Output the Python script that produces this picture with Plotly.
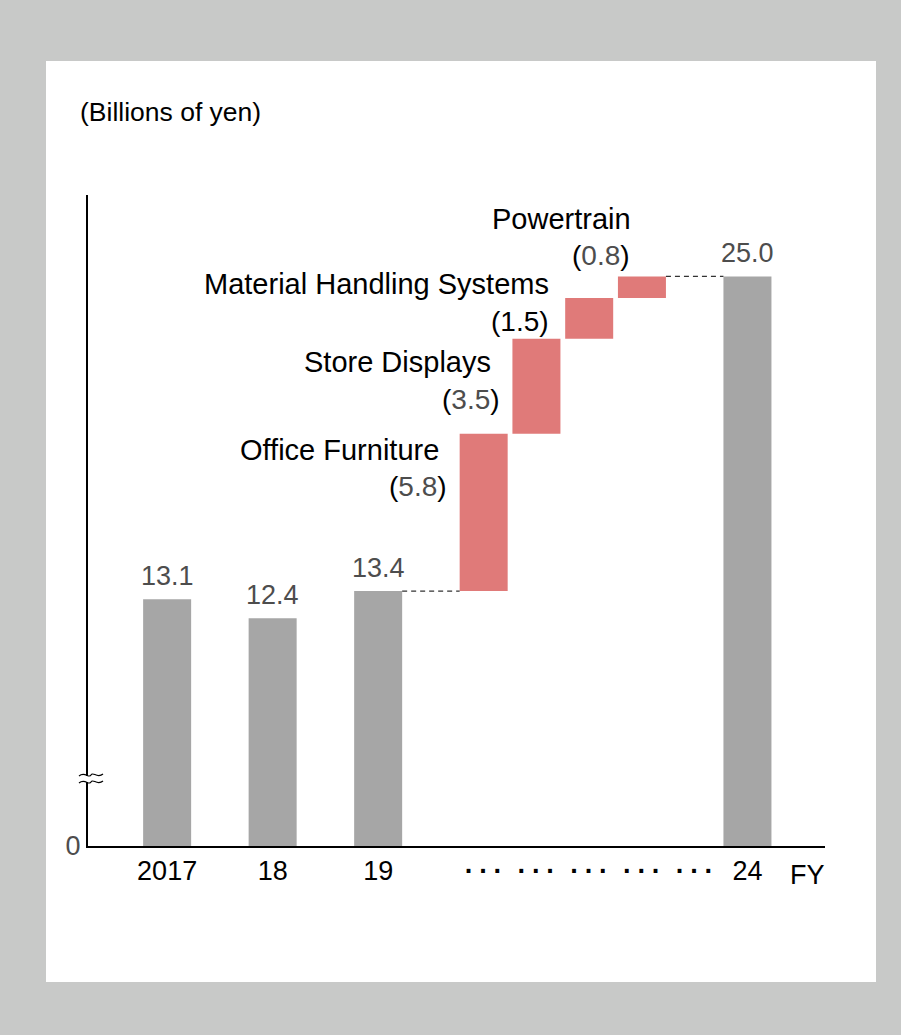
import plotly.graph_objects as go

# ---- data (billions of yen) ----
years = ["2017", "18", "19"]
year_profit = [13.1, 12.4, 13.4]

segments = ["Office Furniture", "Store Displays", "Material Handling Systems", "Powertrain"]
segment_increase = [5.8, 3.5, 1.5, 0.8]

target_label = "24"
target_profit = 25.0

unit_label = "(Billions of yen)"
axis_floor = 4.0          # value at the broken-axis baseline, shown as "0"
axis_top = 28.0

# ---- styling ----
GRAY_BAR = "#a6a6a6"
RED_BAR = "#e07a79"
VALUE_GRAY = "#4d4d4d"
FONT = "Arial, 'Liberation Sans', sans-serif"
W, H = 901, 1035
BAR_W = 0.91


def px(x):
    return x / W


def py(y):
    return 1 - y / H


# slot positions along the numeric x axis
year_x = [2 * i for i in range(len(years))]
seg_start = year_x[-1] + 2
seg_x = [seg_start + j for j in range(len(segments))]
target_x = seg_x[-1] + 2

# cumulative bases for the bridge
seg_base = []
level = year_profit[-1]
for inc in segment_increase:
    seg_base.append(level)
    level += inc
seg_top = [b + inc for b, inc in zip(seg_base, segment_increase)]

fig = go.Figure()

fig.add_trace(go.Bar(
    x=year_x + [target_x],
    y=year_profit + [target_profit],
    width=BAR_W,
    marker=dict(color=GRAY_BAR, line=dict(width=0)),
    hoverinfo="skip",
))

fig.add_trace(go.Bar(
    x=seg_x,
    y=segment_increase,
    base=seg_base,
    width=BAR_W,
    marker=dict(color=RED_BAR, line=dict(width=0)),
    hoverinfo="skip",
))

# value labels over the gray bars
for xv, val in zip(year_x + [target_x], year_profit + [target_profit]):
    fig.add_annotation(
        x=xv, y=val, xref="x", yref="y", text=f"{val:.1f}",
        showarrow=False, yanchor="middle", yshift=23,
        font=dict(family=FONT, size=27, color=VALUE_GRAY),
    )

# segment names and increments (placed relative to each bar's top-left corner)
name_offsets = [(-19, 16), (-19, 23), (-14, -14), (15, -57)]
value_offsets = [(-11, 53), (-10, 61), (-14, 23), (14, -21)]
value_colors = [VALUE_GRAY, VALUE_GRAY, "#000000", VALUE_GRAY]
for name, inc, xs, top, (ndx, ndy), (vdx, vdy), vc in zip(
        segments, segment_increase, seg_x, seg_top, name_offsets, value_offsets, value_colors):
    left = xs - BAR_W / 2
    fig.add_annotation(
        x=left, y=top, xref="x", yref="y", text=name, showarrow=False,
        xanchor="right", yanchor="middle", xshift=ndx, yshift=-ndy,
        font=dict(family=FONT, size=29, color="#000000"),
    )
    fig.add_annotation(
        x=left, y=top, xref="x", yref="y",
        text=f"(<span style='color:{vc}'>{inc:.1f}</span>)", showarrow=False,
        xanchor="right", yanchor="middle", xshift=vdx, yshift=-vdy,
        font=dict(family=FONT, size=28, color="#000000"),
    )

# dashed connectors
dash_line = dict(color="#333333", width=1.3, dash="5px,4px")
fig.add_shape(type="line", xref="x", yref="y",
              x0=year_x[-1] + BAR_W / 2, x1=seg_x[0] - BAR_W / 2,
              y0=year_profit[-1], y1=year_profit[-1], line=dash_line)
fig.add_shape(type="line", xref="x", yref="y",
              x0=seg_x[-1] + BAR_W / 2, x1=target_x - BAR_W / 2,
              y0=target_profit, y1=target_profit, line=dash_line)

# white panel
fig.add_shape(type="rect", xref="paper", yref="paper", layer="below",
              x0=px(46), x1=px(876), y0=py(982), y1=py(61),
              fillcolor="#ffffff", line=dict(width=0))

# axis break mark
fig.add_shape(type="rect", xref="paper", yref="paper", layer="above",
              x0=px(85), x1=px(92), y0=py(782), y1=py(776),
              fillcolor="#ffffff", line=dict(width=0))
for yb in (775.0, 782.0):
    xa, xb = 79, 103
    path = (f"M {px(xa)},{py(yb + 1)} "
            f"C {px(xa + 6)},{py(yb - 4)} {px(xa + 10)},{py(yb + 4)} {px((xa + xb) / 2)},{py(yb)} "
            f"C {px(xb - 10)},{py(yb - 4)} {px(xb - 6)},{py(yb + 4)} {px(xb)},{py(yb - 1)}")
    fig.add_shape(type="path", xref="paper", yref="paper", layer="above", path=path,
                  line=dict(color="#000000", width=1.2))

# unit and FY labels
fig.add_annotation(x=px(78), y=py(112), xref="paper", yref="paper", text=unit_label,
                   showarrow=False, xanchor="left", yanchor="middle",
                   font=dict(family=FONT, size=26.5, color="#000000"))
fig.add_annotation(x=px(807), y=py(875), xref="paper", yref="paper", text="FY",
                   showarrow=False, xanchor="center", yanchor="middle",
                   font=dict(family=FONT, size=27, color="#000000"))

dots = "<b>·\u2009·\u2009·</b>"
tick_vals = year_x + seg_x + [seg_x[-1] + 1, target_x]
tick_text = years + [dots] * (len(segments) + 1) + [target_label]

fig.update_layout(
    template="none",
    width=W, height=H,
    autosize=False,
    margin=dict(l=0, r=0, t=0, b=0, pad=0, autoexpand=False),
    paper_bgcolor="#c8c9c8",
    plot_bgcolor="rgba(0,0,0,0)",
    showlegend=False,
    barmode="overlay",
    font=dict(family=FONT, size=27, color="#000000"),
    xaxis=dict(
        domain=[px(88), px(825)], range=[-1.5, 12.47],
        automargin=False,
        showline=True, linecolor="#000000", linewidth=2,
        showgrid=False, zeroline=False, ticks="",
        tickvals=tick_vals, ticktext=tick_text,
        tickfont=dict(family=FONT, size=27, color="#000000"),
        fixedrange=True,
    ),
    yaxis=dict(
        domain=[py(846), py(195)], range=[axis_floor, axis_top],
        automargin=False,
        showline=True, linecolor="#000000", linewidth=2,
        showgrid=False, zeroline=False, ticks="",
        tickvals=[axis_floor], ticktext=["0"],
        tickfont=dict(family=FONT, size=27, color=VALUE_GRAY),
        fixedrange=True,
    ),
)

fig.write_html("out.html")
